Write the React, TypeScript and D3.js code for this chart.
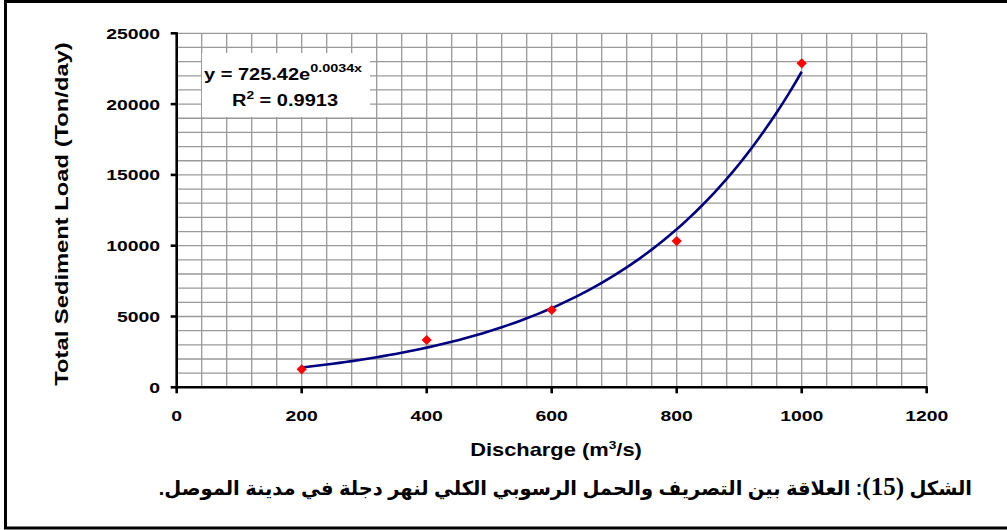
import { useEffect, useRef } from 'react';
import * as d3 from 'd3';

// measured points (Discharge m3/s, Total sediment load Ton/day)
const discharge = [200, 400, 600, 800, 1000];
const sediment = [1270, 3340, 5460, 10330, 22880];

const xTicks = [0, 200, 400, 600, 800, 1000, 1200];
const yTicks = [0, 5000, 10000, 15000, 20000, 25000];

const W = 1007, H = 530;
const SX = 1.25; // text in the reference is stretched horizontally
const FONT = "'Liberation Sans', Arial, 'DejaVu Sans', sans-serif";

// exponential least-squares fit (ln y on x), as Excel's trendline does
function expFit(xs: number[], ys: number[]) {
  const ly = ys.map(Math.log);
  const mx = d3.mean(xs)!, my = d3.mean(ly)!;
  const b = d3.sum(xs, (v, i) => (v - mx) * (ly[i] - my)) / d3.sum(xs, v => (v - mx) ** 2);
  return { a: Math.exp(my - b * mx), b };
}

export default function App() {
  const svgRef = useRef<SVGSVGElement>(null);

  useEffect(() => {
    const svg = d3.select(svgRef.current);
    svg.selectAll('*').remove();

    const left = 176.7, right = 926.7, top = 33.3, bottom = 387.3;
    const x = d3.scaleLinear().domain([0, 1200]).range([left, right]);
    const y = d3.scaleLinear().domain([0, 25000]).range([bottom, top]);

    const label = (px: number, py: number, txt: string, size: number, anchor: string, rot = 0) => {
      const g = svg.append('g').attr('transform', `translate(${px},${py}) rotate(${rot}) scale(${SX},1)`);
      return g.append('text')
        .attr('text-anchor', anchor)
        .attr('font-family', FONT)
        .attr('font-weight', 'bold')
        .attr('font-size', size)
        .attr('fill', '#000')
        .text(txt);
    };

    // outer frame
    svg.append('line').attr('x1', 5.5).attr('x2', W + 5).attr('y1', 1.5).attr('y2', 1.5)
      .attr('stroke', '#000').attr('stroke-width', 3);
    svg.append('line').attr('x1', 5.5).attr('x2', 5.5).attr('y1', 0).attr('y2', 528.5)
      .attr('stroke', '#000').attr('stroke-width', 3);
    svg.append('line').attr('x1', 4).attr('x2', W + 5).attr('y1', 528).attr('y2', 528)
      .attr('stroke', '#000').attr('stroke-width', 3);

    // grid
    const grid = svg.append('g').attr('stroke', '#999').attr('stroke-width', 1.3);
    d3.range(0, 1201, 40).forEach(v => {
      grid.append('line').attr('x1', x(v)).attr('x2', x(v)).attr('y1', top).attr('y2', bottom);
    });
    d3.range(0, 25001, 1000).forEach(v => {
      grid.append('line').attr('x1', left).attr('x2', right).attr('y1', y(v)).attr('y2', y(v));
    });

    // axes
    const axis = svg.append('g').attr('stroke', '#000').attr('stroke-width', 2.6);
    axis.append('line').attr('x1', left).attr('x2', left).attr('y1', top - 1).attr('y2', bottom + 1);
    axis.append('line').attr('x1', left - 1).attr('x2', right + 1).attr('y1', bottom).attr('y2', bottom);
    yTicks.forEach(v => {
      axis.append('line').attr('x1', left - 6).attr('x2', left).attr('y1', y(v)).attr('y2', y(v));
      label(160, y(v) + 5.5, String(v), 15.5, 'end');
    });
    xTicks.forEach(v => {
      axis.append('line').attr('x1', x(v)).attr('x2', x(v)).attr('y1', bottom).attr('y2', bottom + 6);
      label(x(v), 421, String(v), 15.5, 'middle');
    });

    // axis titles
    const xt = label(556, 456, '', 17.5, 'middle');
    xt.append('tspan').text('Discharge  (m');
    xt.append('tspan').attr('font-size', 11).attr('dy', -7).text('3');
    xt.append('tspan').attr('dy', 7).text('/s)');
    label(68, 214, 'Total Sediment Load (Ton/day)', 19, 'middle', -90);

    // trend line
    const { a, b } = expFit(discharge, sediment);
    const trendX = d3.range(d3.min(discharge)!, d3.max(discharge)! + 1, 10);
    const line = d3.line<number>().x(d => x(d)).y(d => y(a * Math.exp(b * d)));
    svg.append('path').datum(trendX).attr('d', line)
      .attr('fill', 'none').attr('stroke', '#000080').attr('stroke-width', 2.6);

    // points
    const diamond = d3.symbol().type(d3.symbolSquare).size(52);
    discharge.forEach((d, i) => {
      svg.append('path').attr('d', diamond())
        .attr('transform', `translate(${x(d)},${y(sediment[i])}) rotate(45)`)
        .attr('fill', '#ff0000');
    });

    // equation box
    svg.append('rect').attr('x', 202).attr('y', 53).attr('width', 168).attr('height', 64).attr('fill', '#fff');
    const eq = label(204, 80, '', 16, 'start');
    eq.append('tspan').text('y = 725.42e');
    eq.append('tspan').attr('font-size', 11.5).attr('dy', -8).text('0.0034x');
    const r2 = label(285, 106, '', 16, 'middle');
    r2.append('tspan').text('R');
    r2.append('tspan').attr('font-size', 11).attr('dy', -7).text('2');
    r2.append('tspan').attr('dy', 7).text(' = 0.9913');

    // caption
    const cap = svg.append('text')
      .attr('x', 972).attr('y', 495)
      .attr('direction', 'rtl')
      .attr('text-anchor', 'start')
      .attr('font-family', FONT)
      .attr('font-weight', 'bold')
      .attr('font-size', 19.5)
      .attr('fill', '#000');
    cap.append('tspan').text('الشكل ');
    cap.append('tspan').attr('font-family', "'Liberation Serif', 'Times New Roman', serif").attr('font-size', 25).text('(15)');
    cap.append('tspan').text(': العلاقة بين التصريف والحمل الرسوبي الكلي لنهر دجلة في مدينة الموصل.');
  }, []);

  return (
    <svg
      ref={svgRef}
      width={W}
      height={H}
      style={{ position: 'absolute', left: 0, top: 0, background: '#fff' }}
    />
  );
}
